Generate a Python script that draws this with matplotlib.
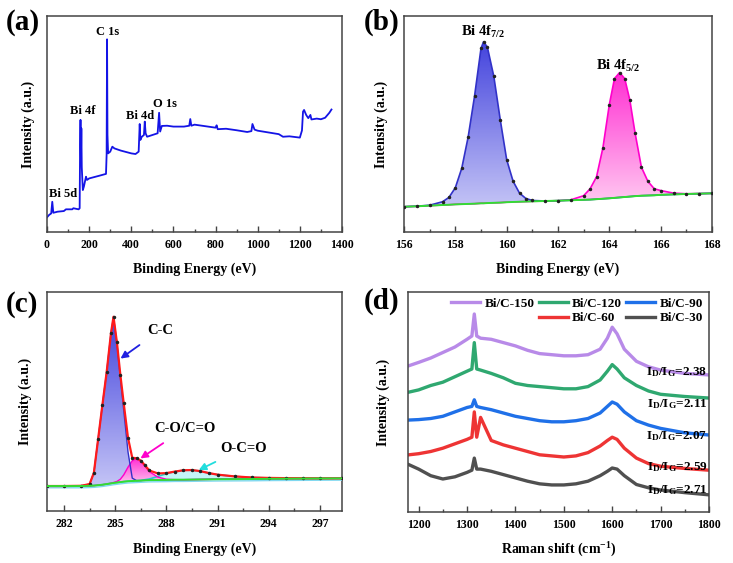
import numpy as np
import matplotlib
matplotlib.use('Agg')
import matplotlib.pyplot as plt
from matplotlib.colors import LinearSegmentedColormap
from matplotlib.patches import PathPatch
from matplotlib.lines import Line2D

plt.rcParams['font.family'] = 'Liberation Serif'
plt.rcParams['font.weight'] = 'bold'
plt.rcParams['axes.labelweight'] = 'bold'
plt.rcParams['mathtext.fontset'] = 'custom'
plt.rcParams['mathtext.rm'] = 'Liberation Serif:bold'
plt.rcParams['mathtext.it'] = 'Liberation Serif:bold'
plt.rcParams['mathtext.bf'] = 'Liberation Serif:bold'

# ---- (a) XPS survey ----
a_x = [0, 10, 20, 25, 30, 50, 80, 90, 120, 125, 150, 155, 157, 159, 161, 163, 165, 170,
       175, 185, 190, 200, 250, 280, 283, 285, 287, 290, 300, 310, 320, 350, 400, 420,
       435, 440, 443, 450, 460, 464, 468, 475, 500, 525, 532, 537, 545, 570, 600, 650,
       675, 680, 685, 700, 750, 800, 805, 810, 850, 900, 950, 970, 975, 985, 1000, 1050,
       1100, 1120, 1150, 1200, 1210, 1215, 1220, 1230, 1240, 1250, 1255, 1280, 1300,
       1320, 1340, 1350]
a_y = [6.8, 7.9, 8.6, 14.0, 8.9, 9.4, 9.7, 10.5, 10.5, 11.0, 10.5, 11.0, 40.0, 51.9, 33.0,
       48.0, 30.0, 19.4, 21.0, 25.6, 24.1, 24.8, 26.1, 26.9, 36.0, 89.2, 45.0, 36.4, 37.2,
       39.5, 38.7, 37.7, 36.4, 36.1, 37.2, 50.0, 42.6, 44.1, 44.9, 51.1, 45.7, 44.1, 44.9,
       45.7, 55.2, 46.5, 49.1, 49.2, 48.8, 48.8, 49.2, 52.3, 49.2, 49.7, 49.0, 48.3, 49.4,
       47.6, 47.8, 47.1, 46.3, 46.7, 50.0, 47.4, 46.9, 46.1, 45.3, 44.1, 44.3, 43.7, 47.0,
       55.7, 56.5, 54.2, 52.7, 54.2, 52.1, 52.5, 52.2, 52.9, 55.2, 56.7]
a_labels = ['Bi 5d', 'Bi 4f', 'C 1s', 'Bi 4d', 'O 1s']
a_lab_x = [76, 169, 286, 440, 560]
a_lab_y = [17.4, 56.2, 92.7, 53.7, 59.3]

# ---- (b) Bi 4f ----
b_x = [156.0, 156.5, 157.0, 157.5, 157.75, 158.0, 158.25, 158.5, 158.75, 159.0, 159.1,
       159.25, 159.5, 159.75, 160.0, 160.25, 160.5, 160.75, 161.0, 161.5, 162.0, 162.5,
       163.0, 163.25, 163.5, 163.75, 164.0, 164.2, 164.4, 164.6, 164.8, 165.0, 165.25,
       165.5, 165.75, 166.0, 166.5, 167.0, 167.5, 168.0]
b_base = [11.7, 11.9, 12.2, 12.5, 12.6, 12.8, 12.9, 13.0, 13.1, 13.3, 13.3, 13.4, 13.5,
          13.6, 13.8, 13.9, 14.0, 14.1, 14.2, 14.35, 14.5, 14.7, 14.9, 15.0, 15.2, 15.4,
          15.6, 15.8, 16.0, 16.2, 16.4, 16.6, 16.8, 16.9, 17.0, 17.2, 17.4, 17.6, 17.75, 17.9]
b_p72 = [11.7, 11.95, 12.4, 14.0, 16.0, 20.5, 29.5, 44.0, 63.0, 85.0, 88.1, 85.5, 72.0,
         52.0, 33.5, 23.5, 18.0, 15.5, 14.6, 14.35, 14.5, 14.7, 14.9, 15.0, 15.2, 15.4,
         15.6, 15.8, 16.0, 16.2, 16.4, 16.6, 16.8, 16.9, 17.0, 17.2, 17.4, 17.6, 17.75, 17.9]
b_p52 = [11.7, 11.9, 12.2, 12.5, 12.6, 12.8, 12.9, 13.0, 13.1, 13.3, 13.3, 13.4, 13.5,
         13.6, 13.8, 13.9, 14.0, 14.1, 14.2, 14.35, 14.5, 14.9, 16.8, 20.0, 25.5, 39.0,
         59.0, 71.0, 73.8, 71.0, 61.0, 46.0, 30.0, 23.5, 20.0, 19.2, 18.0, 17.7, 17.8, 17.9]

# ---- (c) C 1s ----
c_x = [281.0, 282.0, 283.0, 283.5, 283.75, 284.0, 284.25, 284.5, 284.75, 284.9, 285.1,
       285.3, 285.5, 285.75, 286.0, 286.25, 286.5, 286.75, 287.0, 287.5, 288.0, 288.5,
       289.0, 289.5, 290.0, 290.5, 291.0, 292.0, 293.0, 294.0, 295.0, 296.0, 297.0, 298.3]
c_base = [11.4, 11.4, 11.4, 11.5, 11.6, 11.8, 12.0, 12.3, 12.6, 12.8, 13.0, 13.2, 13.4,
          13.6, 13.7, 13.8, 13.9, 14.0, 14.1, 14.15, 14.2, 14.3, 14.3, 14.35, 14.4, 14.45,
          14.5, 14.55, 14.6, 14.7, 14.75, 14.8, 14.85, 14.9]
c_cc = [11.4, 11.4, 11.5, 12.3, 17.5, 33.0, 48.5, 63.5, 81.0, 88.5, 76.5, 61.0, 46.0,
        27.0, 15.0, 13.9, 13.9, 14.0, 14.1, 14.15, 14.2, 14.3, 14.3, 14.35, 14.4, 14.45,
        14.5, 14.55, 14.6, 14.7, 14.75, 14.8, 14.85, 14.9]
c_co = [11.4, 11.4, 11.4, 11.5, 11.6, 11.8, 12.0, 12.3, 12.7, 13.0, 13.5, 14.5, 16.5,
        20.0, 23.0, 24.0, 23.0, 20.5, 18.0, 15.5, 14.5, 14.3, 14.3, 14.35, 14.4, 14.45,
        14.5, 14.55, 14.6, 14.7, 14.75, 14.8, 14.85, 14.9]
c_occ = [11.4, 11.4, 11.4, 11.5, 11.6, 11.8, 12.0, 12.3, 12.6, 12.8, 13.0, 13.2, 13.4,
         13.6, 13.7, 13.8, 13.9, 14.3, 14.6, 15.8, 17.0, 18.0, 18.6, 18.7, 18.2, 17.3,
         16.6, 15.8, 15.3, 15.1, 15.0, 14.95, 14.9, 14.9]

# ---- (d) Raman ----
d_x = [1180, 1200, 1225, 1250, 1275, 1300, 1310, 1315, 1320, 1328, 1350, 1375, 1400, 1425,
       1450, 1475, 1500, 1525, 1550, 1575, 1590, 1600, 1610, 1625, 1650, 1675, 1700, 1750, 1800]
d_150 = [66.5, 68, 70, 72.5, 75, 78.5, 80, 90, 80, 79, 78.5, 77, 75.5, 73.5, 72, 71.5, 71,
         71, 71.5, 74, 79, 84, 81, 74, 68.5, 66, 64.5, 63, 62.3]
d_120 = [54.5, 55.5, 57.5, 59, 61.5, 64, 65, 77, 65, 64.5, 63, 61, 58.5, 57.5, 57, 56.5, 56,
         56, 57, 60, 64, 67, 65, 61, 57.5, 55, 53.5, 52.5, 51.8]
d_90 = [41.8, 42, 42.5, 43.5, 45.5, 47.5, 48, 51, 48, 47.5, 46.5, 45, 43.5, 42.5, 41.5, 41,
        41, 41.5, 42.5, 45, 48, 50, 49, 45.5, 41.5, 39.5, 38, 36, 35]
d_60 = [26, 26.5, 27.5, 29, 31, 33, 34, 45.5, 34, 43, 32.5, 30.5, 29, 27.5, 26, 25.5, 25,
        25.5, 27, 30, 32.5, 34, 33, 29, 24.5, 22, 20.8, 19.8, 19]
d_30 = [21.5, 19.5, 16.5, 15, 16, 18, 19, 24.5, 19.5, 19.5, 18.5, 17, 15.5, 14, 12.8, 12.3,
        12.3, 12.8, 14, 16.5, 18.5, 20, 19.5, 16.5, 12.5, 11, 10, 8.8, 7.8]
d_names = ['Bi/C-150', 'Bi/C-120', 'Bi/C-90', 'Bi/C-60', 'Bi/C-30']
d_ratios = ['2.38', '2.11', '2.07', '2.59', '2.71']
d_ratio_y = [63.6, 49.1, 34.5, 20.5, 10.0]

FRAME = '#444444'


def style(ax, xlim, major, minor):
    ax.set_xlim(*xlim)
    ax.set_ylim(0, 100)
    ax.set_yticks([])
    ax.set_xticks(major)
    ax.set_xticks(minor, minor=True)
    ax.tick_params(axis='x', which='both', direction='in', top=False, labelsize=8.5,
                   pad=5, color=FRAME)
    ax.tick_params(axis='x', which='major', length=4, width=1)
    ax.tick_params(axis='x', which='minor', length=2.5, width=1)
    for s in ax.spines.values():
        s.set_color(FRAME)
        s.set_linewidth(1.1)


def grad_fill(ax, x, top, bot, c_top, c_bot, z=1):
    poly = ax.fill_between(x, bot, top, color='none', lw=0)
    patch = PathPatch(poly.get_paths()[0], transform=ax.transData, fc='none', ec='none')
    ax.add_patch(patch)
    cmap = LinearSegmentedColormap.from_list('g', [c_bot, c_top])
    grad = np.linspace(0, 1, 256).reshape(-1, 1)
    im = ax.imshow(grad, extent=[x[0], x[-1], min(bot), max(top)], origin='lower',
                   aspect='auto', cmap=cmap, zorder=z)
    im.set_clip_path(patch)


fig = plt.figure(figsize=(7.33, 5.63), dpi=100)
axa = fig.add_axes([47 / 733, 1 - 232 / 563, 295 / 733, 216 / 563])
axb = fig.add_axes([404 / 733, 1 - 232 / 563, 308 / 733, 216 / 563])
axc = fig.add_axes([47 / 733, 1 - 511 / 563, 295 / 733, 219 / 563])
axd = fig.add_axes([408 / 733, 1 - 512 / 563, 301 / 733, 220 / 563])

# (a)
axa.plot(a_x, a_y, color='#1414E6', lw=1.3)
for t, x, y in zip(a_labels, a_lab_x, a_lab_y):
    axa.text(x, y, t, ha='center', va='center', fontsize=9)
style(axa, (0, 1400), range(0, 1401, 200), range(100, 1400, 200))

# (b)
grad_fill(axb, b_x, b_p72, b_base, '#4444DD', '#C4C4F6')
grad_fill(axb, b_x, b_p52, b_base, '#FF2ED2', '#FFCDF2')
b_env = np.array(b_p72) + np.array(b_p52) - np.array(b_base)
axb.plot(b_x, b_p52, color='#FF00CC', lw=1.2, zorder=3)
axb.plot(b_x, b_p72, color='#3232C8', lw=1.2, zorder=3)
axb.plot(b_x, b_base, color='#33DD33', lw=1.4, zorder=4)
axb.plot(b_x, b_env, 'o', color='#222222', ms=1.5, zorder=5)
axb.text(159.1, 92.7, r'Bi 4f$_{7/2}$', ha='center', va='center', fontsize=10.5)
axb.text(164.35, 77, r'Bi 4f$_{5/2}$', ha='center', va='center', fontsize=10.5)
style(axb, (156, 168), range(156, 169, 2), np.arange(157, 168, 2))

# (c)
axc.fill_between(c_x, c_base, c_occ, color='#9FEFF2', alpha=0.6, lw=0, zorder=1)
grad_fill(axc, c_x, c_cc, c_base, '#4444DD', '#C4C4F6', z=2)
grad_fill(axc, c_x, c_co, c_base, '#FF2ED2', '#FFCDF2', z=2)
c_env = (np.array(c_cc) + np.array(c_co) + np.array(c_occ) - 2 * np.array(c_base))
axc.plot(c_x, np.array(c_base) - 0.8, color='#7FD8F0', lw=1.0, zorder=3)
axc.plot(c_x, c_occ, color='#22CCCC', lw=1.2, zorder=3)
axc.plot(c_x, c_co, color='#FF00CC', lw=1.0, zorder=3)
axc.plot(c_x, c_cc, color='#3232C8', lw=1.0, zorder=3)
axc.plot(c_x, c_env, color='#FF1A1A', lw=1.6, zorder=4)
axc.plot(c_x, c_env, 'o', color='#222222', ms=1.5, zorder=5)
axc.plot(c_x, c_base, color='#33DD33', lw=1.4, zorder=6)
axc.annotate('C-C', xy=(285.31, 69.6), xytext=(287.65, 82.6), ha='center', va='center',
             fontsize=10.5, arrowprops=dict(arrowstyle='-|>', color='#2020E0', lw=1.3,
                                            shrinkA=7, shrinkB=0))
axc.annotate('C-O/C=O', xy=(286.48, 24.0), xytext=(289.1, 37.7), ha='center', va='center',
             fontsize=10.5, arrowprops=dict(arrowstyle='-|>', color='#FF00CC', lw=1.3,
                                            shrinkA=7, shrinkB=0))
axc.annotate('O-C=O', xy=(289.9, 18.7), xytext=(292.5, 28.6), ha='center', va='center',
             fontsize=10.5, arrowprops=dict(arrowstyle='-|>', color='#22DDDD', lw=1.3,
                                            shrinkA=7, shrinkB=0))
style(axc, (281, 298.3), range(282, 298, 3), np.arange(283.5, 298, 3))

# (d)
d_series = [d_150, d_120, d_90, d_60, d_30]
d_colors = ['#B88AE8', '#2FA870', '#1F70E8', '#EE3434', '#505050']
lines = []
for ys, c, n in zip(d_series, d_colors, d_names):
    ln, = axd.plot(d_x, ys, color=c, lw=2.4, label=n)
    lines.append(ln)
for r, y in zip(d_ratios, d_ratio_y):
    axd.text(1797, y, r'I$_{\mathrm{D}}$/I$_{\mathrm{G}}$=' + r, ha='right', va='center',
             fontsize=9.5)
blank = Line2D([], [], color='none')
axd.legend([lines[0], blank, lines[1], lines[3], lines[2], lines[4]],
           [d_names[0], '', d_names[1], d_names[3], d_names[2], d_names[4]],
           ncol=3, loc='upper right', bbox_to_anchor=(1.02, 1.03), frameon=False,
           fontsize=9.5, handlelength=2.2, handletextpad=0.35, columnspacing=0.3,
           labelspacing=0.2)
style(axd, (1178, 1800), range(1200, 1801, 100), range(1250, 1800, 100))

axa.set_xlabel('Binding Energy (eV)', fontsize=10)
axb.set_xlabel('Binding Energy (eV)', fontsize=10)
axc.set_xlabel('Binding Energy (eV)', fontsize=10)
axd.set_xlabel(r'Raman shift (cm$^{\mathrm{-1}}$)', fontsize=10)
for ax, lx, ly in [(axa, -0.040, -0.139), (axb, -0.052, -0.139),
                   (axc, -0.051, -0.146), (axd, -0.059, -0.132)]:
    ax.set_ylabel('Intensity (a.u.)', fontsize=10)
    ax.yaxis.set_label_coords(lx, 0.5)
    ax.xaxis.set_label_coords(0.5, ly)

for t, x, y in [('(a)', 6, 22), ('(b)', 364, 22), ('(c)', 6, 304), ('(d)', 364, 301)]:
    fig.text(x / 733, 1 - y / 563, t, fontsize=21, ha='left', va='center')

fig.savefig('out.png', dpi=100)
